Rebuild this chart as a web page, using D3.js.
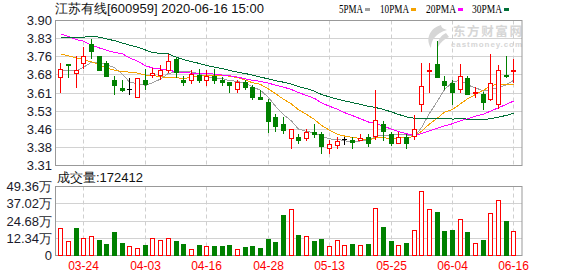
<!DOCTYPE html>
<html>
<head>
<meta charset="utf-8">
<script src="https://cdn.jsdelivr.net/npm/d3@7/dist/d3.min.js"></script>
<style>
body { margin: 0; background: #fff; }
svg { display: block; font-family: "Liberation Sans", Arial, sans-serif; }
</style>
</head>
<body>
<svg id="chart" width="578" height="276"></svg>
<script>
// trading days shown (MM-DD)
var dates = ["03-19","03-20","03-23","03-24","03-25","03-26","03-27","03-30","03-31","04-01",
  "04-02","04-03","04-07","04-08","04-09","04-10","04-13","04-14","04-15","04-16",
  "04-17","04-20","04-21","04-22","04-23","04-24","04-27","04-28","04-29","04-30",
  "05-06","05-07","05-08","05-11","05-12","05-13","05-14","05-15","05-18","05-19",
  "05-20","05-21","05-22","05-25","05-26","05-27","05-28","05-29","06-01","06-02",
  "06-03","06-04","06-05","06-08","06-09","06-10","06-11","06-12","06-15","06-16"];

var opens = [3.669,3.724,3.687,3.728,3.805,3.754,3.726,3.656,3.627,3.620,
  3.589,3.656,3.679,3.679,3.697,3.744,3.656,3.659,3.679,3.656,
  3.676,3.656,3.648,3.622,3.648,3.629,3.588,3.568,3.509,3.480,
  3.423,3.428,3.421,3.446,3.439,3.381,3.394,3.419,3.412,3.415,
  3.428,3.429,3.480,3.439,3.402,3.428,3.432,3.561,3.694,3.724,
  3.655,3.645,3.622,3.667,3.606,3.599,3.581,3.561,3.679,3.694];
var highs = [3.726,3.724,3.754,3.794,3.823,3.757,3.737,3.676,3.656,3.667,
  3.667,3.703,3.706,3.717,3.764,3.751,3.676,3.697,3.703,3.697,
  3.703,3.669,3.648,3.656,3.656,3.636,3.618,3.581,3.518,3.509,
  3.459,3.439,3.459,3.480,3.448,3.412,3.428,3.428,3.428,3.439,
  3.439,3.619,3.490,3.446,3.446,3.439,3.516,3.726,3.726,3.815,
  3.676,3.656,3.724,3.676,3.629,3.608,3.764,3.717,3.754,3.744];
var lows = [3.608,3.669,3.629,3.707,3.747,3.697,3.674,3.599,3.615,3.599,
  3.589,3.622,3.669,3.660,3.690,3.669,3.636,3.646,3.649,3.636,
  3.646,3.636,3.608,3.608,3.622,3.580,3.580,3.448,3.452,3.443,
  3.381,3.401,3.415,3.425,3.360,3.360,3.381,3.398,3.381,3.415,
  3.391,3.419,3.415,3.394,3.402,3.381,3.419,3.531,3.608,3.669,
  3.622,3.561,3.608,3.602,3.588,3.541,3.575,3.545,3.672,3.649];
var closes = [3.703,3.720,3.697,3.754,3.775,3.699,3.676,3.637,3.617,3.620,
  3.667,3.640,3.686,3.697,3.737,3.690,3.648,3.683,3.656,3.676,
  3.656,3.648,3.637,3.648,3.629,3.588,3.580,3.490,3.470,3.455,
  3.459,3.415,3.446,3.439,3.391,3.398,3.409,3.419,3.404,3.421,
  3.401,3.496,3.450,3.401,3.425,3.401,3.459,3.634,3.697,3.669,
  3.636,3.608,3.676,3.602,3.610,3.568,3.646,3.697,3.674,3.697];
var prevClose = 3.66;

// volume in lots (手)
var volumes = [194000,102000,196000,128000,136000,109000,80000,167000,87000,70000,
  56000,73000,128000,109000,128000,102000,80000,48000,73000,65000,
  65000,65000,73000,48000,58000,65000,51000,116000,97000,290000,
  332000,145000,143000,102000,116000,70000,114000,77000,80000,73000,
  80000,339000,203000,102000,77000,87000,179000,462000,332000,312000,
  174000,181000,259000,167000,92000,109000,305000,397000,247000,172412];

var ma5 = [3.699,3.697,3.694,3.710,3.730,3.729,3.720,3.708,3.681,3.650,
  3.643,3.636,3.646,3.662,3.685,3.690,3.692,3.691,3.683,3.671,
  3.664,3.664,3.655,3.653,3.644,3.630,3.616,3.587,3.551,3.517,
  3.491,3.458,3.449,3.443,3.430,3.418,3.417,3.411,3.404,3.410,
  3.411,3.428,3.434,3.434,3.435,3.435,3.427,3.464,3.523,3.572,
  3.619,3.649,3.657,3.638,3.626,3.613,3.620,3.625,3.639,3.656];
var ma10 = [3.764,3.756,3.748,3.740,3.732,3.720,3.706,3.698,3.692,3.690,
  3.686,3.678,3.677,3.671,3.668,3.667,3.664,3.669,3.672,3.678,
  3.677,3.678,3.673,3.668,3.657,3.647,3.640,3.621,3.602,3.580,
  3.560,3.537,3.518,3.497,3.473,3.454,3.437,3.430,3.424,3.420,
  3.414,3.422,3.423,3.419,3.422,3.423,3.428,3.449,3.479,3.503,
  3.527,3.538,3.561,3.581,3.599,3.616,3.635,3.641,3.639,3.641];
var ma20 = [3.846,3.835,3.822,3.816,3.800,3.788,3.779,3.770,3.764,3.748,
  3.735,3.716,3.707,3.703,3.697,3.692,3.688,3.686,3.685,3.684,
  3.682,3.678,3.675,3.670,3.662,3.657,3.652,3.645,3.637,3.629,
  3.619,3.607,3.595,3.583,3.565,3.551,3.539,3.525,3.513,3.500,
  3.487,3.480,3.470,3.458,3.448,3.439,3.432,3.440,3.451,3.462,
  3.471,3.480,3.492,3.500,3.511,3.519,3.531,3.545,3.559,3.572];
var ma30 = [3.832,3.832,3.832,3.832,3.836,3.832,3.825,3.818,3.808,3.800,
  3.792,3.780,3.770,3.766,3.764,3.750,3.741,3.733,3.725,3.717,
  3.710,3.704,3.697,3.690,3.684,3.678,3.670,3.662,3.655,3.649,
  3.641,3.631,3.623,3.612,3.599,3.589,3.580,3.573,3.566,3.559,
  3.551,3.546,3.538,3.528,3.518,3.508,3.502,3.500,3.501,3.501,
  3.501,3.499,3.500,3.499,3.498,3.498,3.500,3.507,3.514,3.522];

var priceTickLabels = ["3.31","3.38","3.46","3.53","3.61","3.68","3.76","3.83","3.90"];
var volTickLabels = ["0","12.34万","24.68万","37.02万","49.36万"];
var xTickLabels = ["03-24","04-03","04-16","04-28","05-13","05-25","06-04","06-16"];
var maNames = ["5PMA","10PMA","20PMA","30PMA"];

var title = "江苏有线[600959] 2020-06-16 15:00";
var volTitle = "成交量:172412";

var RED = "#ff0000", GREEN = "#008000";
var maColors = ["#a0a0a0", "#f5a200", "#ff00ff", "#006f36"];

var svg = d3.select("#chart");
var left = 55, right = 522;
var pTop = 20.5, pBot = 165.5, vTop = 186.5, vBot = 255.5;

var x = d3.scaleBand().domain(dates).range([56.5, 517.3]);
function cx(d) { return Math.round(x(d) + x.bandwidth() / 2); }

var pMin = 3.31, pMax = 3.90;
var y = d3.scaleLinear().domain([pMin, pMax]).range([pBot, pTop]);
var vMax = 493600;
var yv = d3.scaleLinear().domain([0, vMax]).range([vBot, vTop]);

function crisp(v) { return Math.round(v - 0.5) + 0.5; }

// horizontal grid, price panel
var pStep = (pMax - pMin) / (priceTickLabels.length - 1);
priceTickLabels.forEach(function(t, k) {
  var yy = crisp(y(pMin + k * pStep));
  svg.append("line").attr("x1", left).attr("x2", right).attr("y1", yy).attr("y2", yy)
    .attr("stroke", "#d2d2d2");
  svg.append("text").attr("x", 52).attr("y", yy).attr("dy", "0.36em")
    .attr("text-anchor", "end").attr("font-size", 13).attr("fill", "#1a1a2a").text(t);
});

var vStep = vMax / (volTickLabels.length - 1);
volTickLabels.forEach(function(t, k) {
  var yy = crisp(yv(k * vStep));
  svg.append("line").attr("x1", left).attr("x2", right).attr("y1", yy).attr("y2", yy)
    .attr("stroke", "#d2d2d2");
  svg.append("text").attr("x", 52).attr("y", yy).attr("dy", "0.36em")
    .attr("text-anchor", "end").attr("font-size", 13).attr("fill", "#1a1a2a").text(t);
});

// vertical dashed grid + date labels
xTickLabels.forEach(function(t) {
  var xx = cx(t) + 0.5;
  [[pTop, pBot], [vTop, vBot]].forEach(function(r) {
    svg.append("line").attr("x1", xx).attr("x2", xx).attr("y1", r[0]).attr("y2", r[1])
      .attr("stroke", "#cfcfcf").attr("stroke-dasharray", "4,3");
  });
  svg.append("text").attr("x", xx).attr("y", 270).attr("text-anchor", "middle")
    .attr("font-size", 12).attr("fill", RED).text(t);
});

// watermark
var wm = svg.append("g").attr("fill", "#d6d6d6");
wm.append("path").attr("d", "M441,25 C430,28 425,39 431,48 C431,40 436,33 447,30 C443,29 441,27 441,25 Z");
wm.append("path").attr("d", "M446,33 C440,36 437,41 438,47 C441,42 444,39 449,37 Z");
wm.append("text").attr("x", 453).attr("y", 36).attr("font-size", 12.5).attr("font-weight", "bold")
  .attr("font-family", "Noto Sans CJK SC").attr("textLength", 69).text("东方财富网");
wm.append("text").attr("x", 451).attr("y", 47).attr("font-size", 8).attr("font-weight", "bold")
  .attr("textLength", 71).text("eastmoney.com");

// panel borders
svg.append("rect").attr("x", left + 0.5).attr("y", pTop).attr("width", right - left - 0.5)
  .attr("height", pBot - pTop).attr("fill", "none").attr("stroke", "#999");
svg.append("rect").attr("x", left + 0.5).attr("y", vTop).attr("width", right - left - 0.5)
  .attr("height", vBot - vTop).attr("fill", "none").attr("stroke", "#999");

// moving averages
var maSeries = [ma5, ma10, ma20, ma30];
maSeries.forEach(function(s, k) {
  var line = d3.line().x(function(d, i) { return cx(dates[i]) + 0.5; }).y(function(d) { return y(d); });
  svg.append("path").datum(s).attr("d", line).attr("fill", "none")
    .attr("stroke", maColors[k]).attr("stroke-width", 1).attr("shape-rendering", "crispEdges");
});

// candles
var candles = svg.append("g").attr("shape-rendering", "crispEdges");
dates.forEach(function(d, i) {
  var o = opens[i], c = closes[i];
  var col = c > o ? RED : (c < o ? GREEN : "#000");
  var xc = cx(d);
  var yo = Math.round(y(o)), yc = Math.round(y(c));
  var yh = Math.round(y(highs[i])), yl = Math.round(y(lows[i]));
  candles.append("line").attr("x1", xc + 0.5).attr("x2", xc + 0.5).attr("y1", yh).attr("y2", yl + 1)
    .attr("stroke", col);
  var top = Math.min(yo, yc), h = Math.abs(yo - yc);
  if (h < 1) {
    candles.append("line").attr("x1", xc - 2).attr("x2", xc + 3).attr("y1", top + 0.5).attr("y2", top + 0.5)
      .attr("stroke", col);
  } else if (c > o) {
    candles.append("rect").attr("x", xc - 1.5).attr("y", top + 0.5).attr("width", 4).attr("height", h)
      .attr("fill", "#fff").attr("stroke", col);
  } else {
    candles.append("rect").attr("x", xc - 2).attr("y", top).attr("width", 5).attr("height", h + 1)
      .attr("fill", col);
  }
});

// volume bars
var bars = svg.append("g").attr("shape-rendering", "crispEdges");
dates.forEach(function(d, i) {
  var pc = i === 0 ? prevClose : closes[i - 1];
  var up = closes[i] >= pc;
  var xc = cx(d);
  var yt = Math.round(yv(volumes[i]));
  if (up) {
    bars.append("rect").attr("x", xc - 1.5).attr("y", yt + 0.5).attr("width", 4).attr("height", 255 - yt)
      .attr("fill", "#fff").attr("stroke", RED);
  } else {
    bars.append("rect").attr("x", xc - 2).attr("y", yt).attr("width", 5).attr("height", 256 - yt)
      .attr("fill", GREEN);
  }
});

// header
svg.append("text").attr("x", 55).attr("y", 13).attr("font-size", 13).attr("fill", "#111").text(title);
svg.append("text").attr("x", 57).attr("y", 182).attr("font-size", 13).attr("fill", "#111").text(volTitle);

// legend
var legX = [339, 380, 426, 472], legW = [24, 29, 30, 30];
maNames.forEach(function(n, k) {
  svg.append("text").attr("x", legX[k]).attr("y", 13).attr("font-size", 12)
    .attr("font-family", "Liberation Serif").attr("textLength", legW[k])
    .attr("lengthAdjust", "spacingAndGlyphs").attr("fill", "#000").text(n);
  svg.append("rect").attr("x", legX[k] + legW[k] + 2).attr("y", 8).attr("width", 5).attr("height", 3)
    .attr("fill", maColors[k]);
});
</script>
</body>
</html>
